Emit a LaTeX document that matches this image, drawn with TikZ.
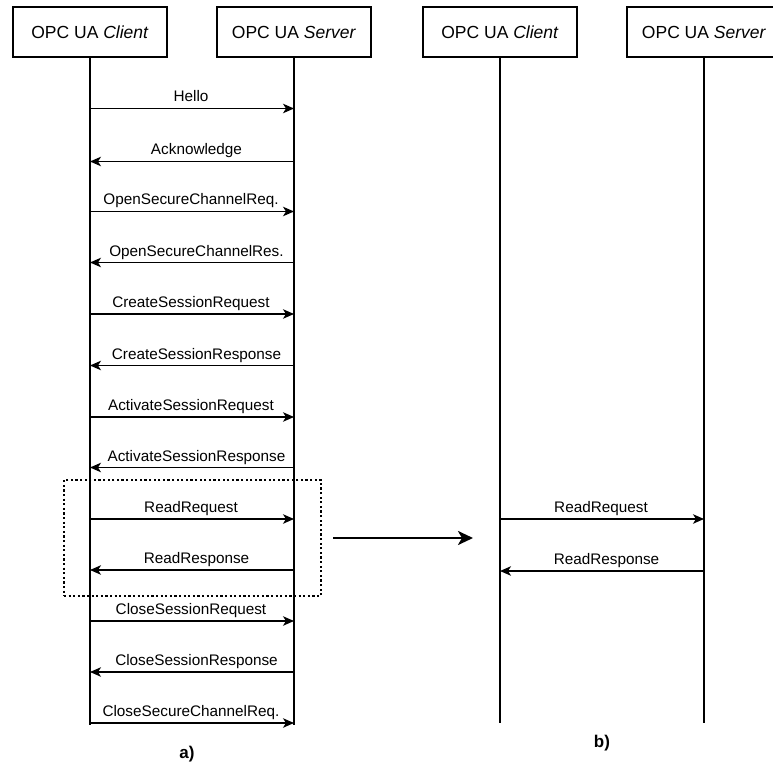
\documentclass[tikz,border=0pt]{standalone}
\usepackage{fontspec}
\setmainfont{Liberation Sans}
\usetikzlibrary{arrows.meta}
\begin{document}
\begin{tikzpicture}[x=1pt,y=-1pt,
  actor/.style={draw, line width=1.1pt, minimum width=154pt, minimum height=50pt,
    inner sep=0pt, font=\fontsize{17.5}{20}\selectfont},
  lifeline/.style={line width=2.6pt},
  msg/.style={line width=1.3pt, -{Stealth[length=11pt,width=9.5pt,inset=3pt]}},
  lbl/.style={font=\fontsize{15.3}{18}\selectfont, anchor=base, inner sep=0pt, yshift=6.5pt},
  req/.style={lbl, xshift=-1pt},
  res/.style={lbl, xshift=4.5pt},
  caption/.style={font=\bfseries\fontsize{17}{20}\selectfont}]
\useasboundingbox (0,0) rectangle (773,767);
\clip (0,0) rectangle (773,767);

% participants of part a)
\node[actor] (ca) at (90,32)  {OPC UA \textit{Client}};
\node[actor] (sa) at (294,32) {OPC UA \textit{Server}};
% participants of part b)
\node[actor] (cb) at (500,32) {OPC UA \textit{Client}};
\node[actor] (sb) at (704,32) {OPC UA \textit{Server}};

% lifelines
\coordinate (caend) at (90,725);
\coordinate (saend) at (294,725);
\coordinate (cbend) at (500,723);
\coordinate (sbend) at (704,723);
\draw[lifeline] (ca.south) -- (caend);
\draw[lifeline] (sa.south) -- (saend);
\draw[lifeline] (cb.south) -- (cbend);
\draw[lifeline] (sb.south) -- (sbend);

% message anchors on the lifelines of part a)
\foreach \k/\yy in {1/108.5,2/161.5,3/211.5,4/262.5,5/314,6/365.5,7/417,8/467.5,9/519,10/570,11/621,12/672,13/723}{
  \coordinate (c\k) at (90,\yy);
  \coordinate (s\k) at (294,\yy);
}

% message sequence of part a)
\draw[msg] (c1) -- (s1) node[req, midway] {Hello};
\draw[msg] (s2) -- (c2) node[res, midway] {Acknowledge};
\draw[msg] (c3) -- (s3) node[req, midway] {OpenSecureChannelReq.};
\draw[msg] (s4) -- (c4) node[res, midway] {OpenSecureChannelRes.};
\draw[msg] (c5) -- (s5) node[req, midway] {CreateSessionRequest};
\draw[msg] (s6) -- (c6) node[res, midway] {CreateSessionResponse};
\draw[msg] (c7) -- (s7) node[req, midway] {ActivateSessionRequest};
\draw[msg] (s8) -- (c8) node[res, midway] {ActivateSessionResponse};
\draw[msg] (c9) -- (s9) node[req, midway] {ReadRequest};
\draw[msg] (s10) -- (c10) node[res, midway] {ReadResponse};
\draw[msg] (c11) -- (s11) node[req, midway] {CloseSessionRequest};
\draw[msg] (s12) -- (c12) node[res, midway] {CloseSessionResponse};
\draw[msg] (c13) -- (s13) node[req, midway] {CloseSecureChannelReq.};

% highlighted read exchange
\node[draw, line width=2.2pt, dash pattern=on 2.2pt off 2.4pt, minimum width=257pt,
  minimum height=116pt, inner sep=0pt] (focus) at (192.5,538) {};

% transition arrow
\coordinate (tfrom) at (333,538);
\coordinate (tto) at (473,538);
\draw[line width=2.6pt, -{Stealth[length=15pt,width=14pt,inset=4pt]}] (tfrom) -- (tto);

% message sequence of part b)
\coordinate (rq1) at (500,519);
\coordinate (rq2) at (704,519);
\coordinate (rs1) at (704,571);
\coordinate (rs2) at (500,571);
\draw[msg] (rq1) -- (rq2) node[req, midway] {ReadRequest};
\draw[msg] (rs1) -- (rs2) node[res, midway] {ReadResponse};

% captions
\node[caption] (capa) at (187,754) {a)};
\node[caption] (capb) at (602,743) {b)};
\end{tikzpicture}
\end{document}
